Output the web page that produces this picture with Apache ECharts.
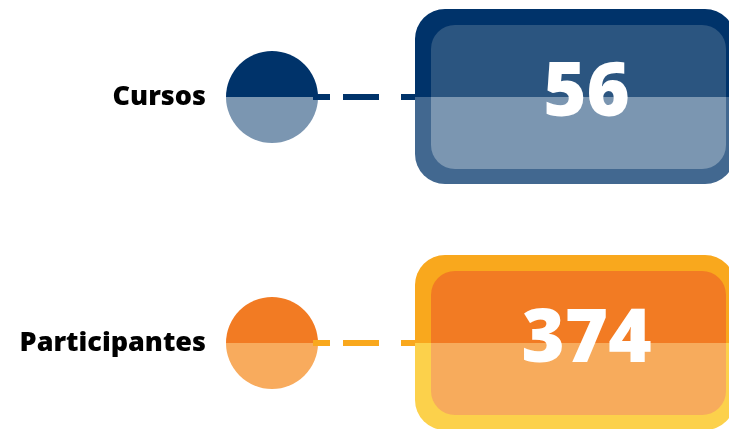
<!DOCTYPE html>
<html>
<head>
<meta charset="utf-8">
<script src="https://cdn.jsdelivr.net/npm/echarts@6/dist/echarts.min.js"></script>
<style>
  html, body { margin: 0; padding: 0; background: #fff; }
  #main { width: 729px; height: 429px; }
</style>
</head>
<body>
<div id="main"></div>
<script>
// datos
var categorias = ['Cursos', 'Participantes'];
var valores = [56, 374];

// colores por fila: [circulo arriba, circulo abajo, linea, borde arriba, borde abajo, caja arriba, caja abajo]
var paletas = [
    ['#00336a', '#7b96b1', '#00336a', '#00336a', '#426890', '#2b5580', '#7b96b1'],
    ['#f27b23', '#f8ab5d', '#f9a81d', '#f9a81d', '#fcd14b', '#f27b23', '#f7ab5c']
];

var chart = echarts.init(document.getElementById('main'));

function renderFila(params, api) {
    var idx = api.value(0);
    var pt = api.coord([0, idx]);
    var cs = params.coordSys;
    var cy = pt[1];
    var c = paletas[idx];
    var cx = cs.x + 57;          // centro del circulo
    var r = 46;
    var bx = cs.x + 200;         // borde izquierdo de la caja
    var bw = 320;
    var ix = bx + 16;
    var iw = 295;
    return {
        type: 'group',
        children: [
            { type: 'sector', shape: { cx: cx, cy: cy, r: r, startAngle: Math.PI, endAngle: Math.PI * 2 }, style: { fill: c[0] } },
            { type: 'sector', shape: { cx: cx, cy: cy, r: r, startAngle: 0, endAngle: Math.PI }, style: { fill: c[1] } },
            { type: 'line', shape: { x1: cx + 41, y1: cy, x2: bx + 4, y2: cy },
              style: { stroke: c[2], lineWidth: 6, lineDash: [17, 13, 36, 22] } },
            { type: 'rect', shape: { x: bx, y: cy - 88, width: bw, height: 88, r: [30, 30, 0, 0] }, style: { fill: c[3] } },
            { type: 'rect', shape: { x: bx, y: cy, width: bw, height: 87, r: [0, 0, 30, 30] }, style: { fill: c[4] } },
            { type: 'rect', shape: { x: ix, y: cy - 72, width: iw, height: 72, r: [24, 24, 0, 0] }, style: { fill: c[5] } },
            { type: 'rect', shape: { x: ix, y: cy, width: iw, height: 72, r: [0, 0, 24, 24] }, style: { fill: c[6] } },
            { type: 'text', x: ix + iw / 2 + 8, y: cy - 2,
              style: { text: String(api.value(1)), fill: '#fff', font: '800 74px "Open Sans", sans-serif',
                       align: 'center', verticalAlign: 'middle' } }
        ]
    };
}

var option = {
    animation: false,
    grid: { left: 215, right: 0, top: 97, bottom: 86 },
    xAxis: { type: 'value', min: 0, max: 1, show: false },
    yAxis: {
        type: 'category',
        data: categorias,
        inverse: true,
        boundaryGap: false,
        axisLine: { show: false },
        axisTick: { show: false },
        splitLine: { show: false },
        axisLabel: {
            margin: 9,
            color: '#000',
            fontSize: 27,
            fontWeight: 800,
            fontFamily: '"Open Sans", sans-serif'
        }
    },
    series: [{
        type: 'custom',
        renderItem: renderFila,
        encode: { y: 0 },
        data: valores.map(function (v, i) { return [i, v]; })
    }]
};
chart.setOption(option);
</script>
</body>
</html>
